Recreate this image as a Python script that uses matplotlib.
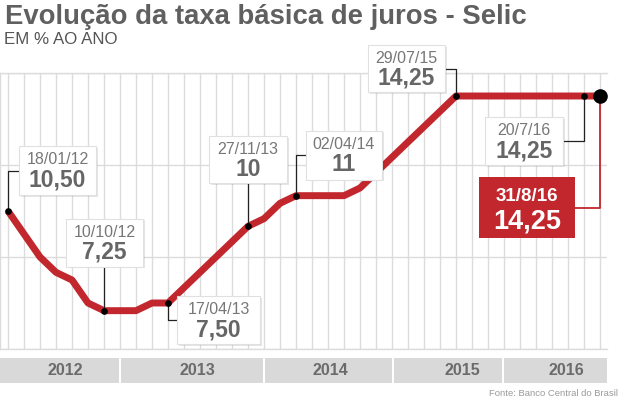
import matplotlib
matplotlib.use("Agg")
import matplotlib.pyplot as plt
from matplotlib.patches import Rectangle
from matplotlib.lines import Line2D
from matplotlib.transforms import IdentityTransform
import numpy as np

# ---------------- data ----------------
selic = [10.50, 9.75, 9.00, 8.50, 8.25, 7.50, 7.25, 7.25, 7.25, 7.50, 7.50,
         8.00, 8.50, 9.00, 9.50, 10.00, 10.25, 10.75, 11.00, 11.00, 11.00,
         11.00, 11.25, 11.75, 12.25, 12.75, 13.25, 13.75, 14.25, 14.25,
         14.25, 14.25, 14.25, 14.25, 14.25, 14.25, 14.25, 14.25]
label_idx = [0, 6, 10, 15, 18, 28, 36, 37]
label_dates = ["18/01/12", "10/10/12", "17/04/13", "27/11/13", "02/04/14",
               "29/07/15", "20/7/16", "31/8/16"]
years = ["2012", "2013", "2014", "2015", "2016"]
y_grid = [6, 9, 12, 15]

# ---------------- layout / style ----------------
W, H = 618, 397
RED = "#c1272d"
GRID = "#dcdcdc"
FONT = ["Liberation Sans", "DejaVu Sans"]
NARROW = ["Liberation Sans Narrow", "Liberation Sans", "DejaVu Sans"]
plt.rcParams["font.family"] = FONT

# year bar segment boundaries (x in meeting-index units) and label positions
year_bounds = [-0.5, 6.97, 15.97, 24.06, 30.94, 37.5]
year_label_x = [3.56, 11.86, 20.17, 28.4, 34.9]

# annotation boxes: (dx, dy) box-centre offset from point in px (y down), width, height
box_geom = [(49.5, -40.5, 77, 49), (0.5, -68, 77, 48), (50.5, 17, 83, 48),
            (0, -66.5, 78, 47), (48, -40.5, 76, 49), (-49.5, -27.5, 77, 47),
            (-60, 45, 78, 48), (-73, 111.5, 96, 61)]

fig = plt.figure(figsize=(W / 100, H / 100), dpi=100)
fig.patch.set_facecolor("white")

ax = fig.add_axes([0, 48 / H, 607 / W, 276 / H])
x = np.arange(len(selic))
ax.set_xlim(-0.5, -0.5 + 607 / 16)
ax.set_ylim(6, 15)
ax.set_xticks(x)
ax.set_yticks(y_grid)
ax.tick_params(length=0, labelbottom=False, labelleft=False)
ax.grid(True, color=GRID, lw=1.0)
ax.set_axisbelow(True)
for s in ["left", "bottom", "top"]:
    ax.spines[s].set_color(GRID)
    ax.spines[s].set_linewidth(1.0)
ax.spines["right"].set_visible(False)

ax.plot(x, selic, color=RED, lw=5.0, solid_joinstyle="round",
        solid_capstyle="butt", zorder=2, clip_on=False)
lx = [x[i] for i in label_idx[:-1]]
ly = [selic[i] for i in label_idx[:-1]]
ax.plot(lx, ly, "o", color="black", ms=3.8, zorder=4, clip_on=False)
ax.plot([x[label_idx[-1]]], [selic[label_idx[-1]]], "o", color="black",
        ms=9.5, zorder=4, clip_on=False)

ID = IdentityTransform()


def fmt(v):
    if float(v).is_integer():
        return str(int(v))
    return f"{v:.2f}".replace(".", ",")


for k, (i, d) in enumerate(zip(label_idx, label_dates)):
    px, py = ax.transData.transform((x[i], selic[i]))
    dx, dy, bw, bh = box_geom[k]
    cx, cy = px + dx, py - dy
    last = k == len(label_idx) - 1
    # connector
    if abs(dx) < bw / 2:
        ey = cy - bh / 2 if cy > py else cy + bh / 2
        xs, ys = [px, px], [py, ey]
    else:
        ex = cx - bw / 2 if cx > px else cx + bw / 2
        xs, ys = [px, px, ex], [py, cy, cy]
    ax.add_line(Line2D(xs, ys, transform=ID, color=RED if last else "#222222",
                       lw=1.3 if last else 0.9, zorder=3, clip_on=False))
    if last:
        ax.add_patch(Rectangle((cx - bw / 2, cy - bh / 2), bw, bh, transform=ID,
                               facecolor=RED, edgecolor="none", zorder=5,
                               clip_on=False))
        ax.text(cx, cy + 11, d, transform=ID, ha="center", va="center",
                fontsize=13.5, fontweight="bold", color="white", zorder=6)
        ax.text(cx, cy - 14, fmt(selic[i]), transform=ID, ha="center",
                va="center", fontsize=19.5, fontweight="bold", color="white",
                zorder=6)
    else:
        ax.add_patch(Rectangle((cx - bw / 2 + 1.5, cy - bh / 2 - 1.5), bw, bh,
                               transform=ID, facecolor=(0, 0, 0, 0.10),
                               edgecolor="none", zorder=5, clip_on=False))
        ax.add_patch(Rectangle((cx - bw / 2, cy - bh / 2), bw, bh, transform=ID,
                               facecolor="white", edgecolor="#e0e0e0", lw=0.8,
                               zorder=5, clip_on=False))
        ax.text(cx, cy + 10.5, d, transform=ID, ha="center", va="center",
                fontsize=11.5, color="#777777", zorder=6)
        ax.text(cx, cy - 9.5, fmt(selic[i]), transform=ID, ha="center",
                va="center", fontsize=16.5, fontweight="bold", color="#666666",
                zorder=6)

# year bar
ax2 = fig.add_axes([0, (H - 383) / H, 607 / W, 25 / H])
ax2.set_xlim(ax.get_xlim())
ax2.set_ylim(0, 1)
ax2.axis("off")
gap = 1.0 / 16
for j, yr in enumerate(years):
    a, b = year_bounds[j], year_bounds[j + 1]
    a2 = a if j == 0 else a + gap
    ax2.add_patch(Rectangle((a2, 0), b - gap - a2, 1, facecolor="#d9d9d9",
                            edgecolor="none", clip_on=False))
    ax2.text(year_label_x[j], 0.5, yr, ha="center", va="center",
             fontsize=11.5, fontweight="bold", color="#6b6b6b", family=NARROW)

# titles
fig.text(5 / W, 1 - 17 / H, "Evolução da taxa básica de juros - Selic",
         ha="left", va="center", fontsize=19.8, fontweight="bold",
         color="#606060")
fig.text(4 / W, 1 - 40 / H, "EM % AO ANO", ha="left", va="center",
         fontsize=12.2, color="#555555", family=NARROW + FONT)
fig.text(618 / W, (H - 393) / H, "Fonte: Banco Central do Brasil",
         ha="right", va="center", fontsize=6.8, color="#9a9a9a", family=NARROW)

fig.savefig("out.png", dpi=100, facecolor="white")
